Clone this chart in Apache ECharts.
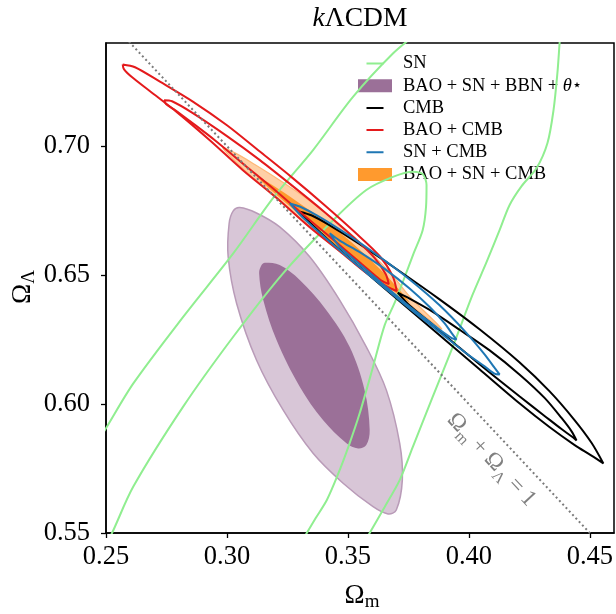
<!DOCTYPE html>
<html>
<head>
<meta charset="utf-8">
<script src="https://cdn.jsdelivr.net/npm/echarts@6/dist/echarts.min.js"></script>
<style>
html,body{margin:0;padding:0;background:#fff;}
#chart{width:616px;height:614px;}
</style>
</head>
<body>
<div id="chart"></div>
<script>
// ---------- axis ticks ----------
const xTicks = [0.25, 0.30, 0.35, 0.40, 0.45];
const yTicks = [0.55, 0.60, 0.65, 0.70];

// ---------- SN (green lines) ----------
const snOuterLeft = [[0.2475,0.5868],[0.2500,0.5906],[0.2613,0.6080],[0.2819,0.6338],[0.3026,0.6584],[0.3195,0.6804],[0.3356,0.6985],[0.3521,0.7191],[0.3686,0.7359],[0.3776,0.7430]];
const snInner = [[0.2508,0.5473],[0.2525,0.5500],[0.2613,0.5680],[0.2819,0.5990],[0.3026,0.6261],[0.3232,0.6507],[0.3439,0.6713],[0.3576,0.6830],[0.3686,0.6881],[0.3768,0.6901],[0.3809,0.6892],[0.3825,0.6849],[0.3823,0.6765],[0.3809,0.6674],[0.3772,0.6585],[0.3730,0.6481],[0.3693,0.6392],[0.3652,0.6306],[0.3604,0.6145],[0.3549,0.5965],[0.3503,0.5837],[0.3458,0.5725],[0.3413,0.5628],[0.3367,0.5558],[0.3330,0.5500],[0.3313,0.5473]];
const snOuterRight = [[0.4379,0.7450],[0.4375,0.7399],[0.4366,0.7283],[0.4350,0.7140],[0.4325,0.7012],[0.4280,0.6915],[0.4218,0.6845],[0.4168,0.6771],[0.4127,0.6674],[0.4073,0.6550],[0.4015,0.6423],[0.3933,0.6221],[0.3850,0.6027],[0.3768,0.5833],[0.3714,0.5705],[0.3652,0.5601],[0.3590,0.5500],[0.3574,0.5473]];

// ---------- BAO + SN + BBN + theta (purple filled) ----------
const purpleOuter = [[0.3053,0.6762],[0.3122,0.6741],[0.3218,0.6687],[0.3342,0.6571],[0.3466,0.6403],[0.3576,0.6222],[0.3659,0.6054],[0.3714,0.5848],[0.3725,0.5705],[0.3700,0.5589],[0.3666,0.5574],[0.3604,0.5602],[0.3480,0.5693],[0.3356,0.5809],[0.3232,0.5977],[0.3122,0.6171],[0.3040,0.6390],[0.3005,0.6571],[0.3009,0.6700],[0.3026,0.6749]];
const purpleInner = [[0.3157,0.6548],[0.3218,0.6539],[0.3301,0.6481],[0.3411,0.6364],[0.3507,0.6222],[0.3569,0.6054],[0.3590,0.5899],[0.3576,0.5841],[0.3542,0.5828],[0.3494,0.5848],[0.3397,0.5938],[0.3301,0.6067],[0.3205,0.6248],[0.3150,0.6403],[0.3133,0.6507],[0.3143,0.6539]];

// ---------- CMB (black) ----------
const cmbOuter = [[0.3301,0.6746],[0.3351,0.6731],[0.3425,0.6693],[0.3549,0.6620],[0.3714,0.6515],[0.3879,0.6406],[0.4044,0.6290],[0.4209,0.6162],[0.4333,0.6050],[0.4436,0.5939],[0.4507,0.5850],[0.4556,0.5770],[0.4507,0.5800],[0.4436,0.5842],[0.4333,0.5911],[0.4209,0.6003],[0.4044,0.6135],[0.3879,0.6267],[0.3714,0.6399],[0.3549,0.6531],[0.3425,0.6631],[0.3351,0.6696]];
const cmbInner = [[0.3706,0.6432],[0.3755,0.6409],[0.3838,0.6365],[0.3962,0.6288],[0.4086,0.6208],[0.4209,0.6115],[0.4313,0.6024],[0.4383,0.5946],[0.4424,0.5895],[0.4445,0.5859],[0.4424,0.5875],[0.4383,0.5903],[0.4313,0.5954],[0.4209,0.6030],[0.4086,0.6122],[0.3962,0.6218],[0.3838,0.6318],[0.3755,0.6382]];

// ---------- BAO + CMB (red) ----------
const baoCmbOuter = [[0.2569,0.7317],[0.2620,0.7306],[0.2723,0.7250],[0.2859,0.7173],[0.3000,0.7081],[0.3136,0.6979],[0.3272,0.6876],[0.3404,0.6771],[0.3528,0.6667],[0.3631,0.6574],[0.3685,0.6496],[0.3702,0.6438],[0.3664,0.6454],[0.3582,0.6504],[0.3466,0.6593],[0.3342,0.6686],[0.3206,0.6799],[0.3066,0.6907],[0.2929,0.7023],[0.2793,0.7132],[0.2682,0.7213],[0.2607,0.7268],[0.2574,0.7299]];
const baoCmbInner = [[0.2740,0.7178],[0.2773,0.7174],[0.2859,0.7128],[0.3000,0.7039],[0.3136,0.6946],[0.3272,0.6845],[0.3404,0.6744],[0.3528,0.6643],[0.3611,0.6566],[0.3656,0.6504],[0.3669,0.6465],[0.3635,0.6481],[0.3557,0.6543],[0.3446,0.6632],[0.3322,0.6729],[0.3198,0.6830],[0.3074,0.6926],[0.2950,0.7023],[0.2847,0.7097],[0.2781,0.7143],[0.2748,0.7163]];

// ---------- SN + CMB (blue) ----------
const snCmbOuter = [[0.3260,0.6778],[0.3301,0.6766],[0.3384,0.6725],[0.3507,0.6652],[0.3631,0.6571],[0.3755,0.6483],[0.3879,0.6383],[0.3982,0.6284],[0.4065,0.6193],[0.4106,0.6141],[0.4127,0.6115],[0.4106,0.6118],[0.4065,0.6146],[0.3982,0.6202],[0.3879,0.6279],[0.3755,0.6371],[0.3631,0.6467],[0.3507,0.6563],[0.3384,0.6663],[0.3301,0.6735]];
const snCmbInner = [[0.3425,0.6662],[0.3466,0.6634],[0.3549,0.6589],[0.3652,0.6524],[0.3755,0.6448],[0.3838,0.6376],[0.3900,0.6313],[0.3929,0.6275],[0.3949,0.6250],[0.3929,0.6256],[0.3900,0.6274],[0.3838,0.6318],[0.3755,0.6378],[0.3652,0.6459],[0.3549,0.6542],[0.3466,0.6610]];

// ---------- BAO + SN + CMB (orange filled) ----------
const allOuter = [[0.2983,0.6993],[0.3033,0.6974],[0.3115,0.6929],[0.3218,0.6868],[0.3342,0.6788],[0.3466,0.6696],[0.3590,0.6592],[0.3693,0.6489],[0.3755,0.6417],[0.3888,0.6291],[0.3755,0.6386],[0.3693,0.6427],[0.3590,0.6499],[0.3466,0.6591],[0.3342,0.6687],[0.3218,0.6787],[0.3115,0.6871],[0.3033,0.6943]];
const allInner = [[0.3123,0.6884],[0.3169,0.6860],[0.3260,0.6805],[0.3363,0.6737],[0.3466,0.6665],[0.3569,0.6581],[0.3652,0.6505],[0.3714,0.6441],[0.3755,0.6394],[0.3714,0.6422],[0.3652,0.6462],[0.3569,0.6523],[0.3466,0.6603],[0.3363,0.6683],[0.3260,0.6767],[0.3169,0.6841]];

// ---------- flat line Omega_m + Omega_L = 1 ----------
const flatLine = [[0.25,0.75],[0.46,0.54]];

// ---------- names ----------
const N_SN = 'SN', N_P = 'BAO + SN + BBN + θ⋆', N_CMB = 'CMB', N_BC = 'BAO + CMB', N_SC = 'SN + CMB', N_ALL = 'BAO + SN + CMB';

const FONT = 'Liberation Serif';
const LINE_ICON = 'path://M0,0h0.01v0.01h-0.01zM0,11h34v4h-34zM0,26h0.01v0.01h-0.01z';
const closeLoop = a => a.concat([a[0]]);

function fillSeries(name, pts, fill, stroke, lw, z) {
  return {
    type: 'custom', name: name, z: z, silent: true, coordinateSystem: 'cartesian2d',
    data: [pts[0]],
    itemStyle: {color: fill},
    renderItem: function (params, api) {
      return {
        type: 'polygon',
        shape: {points: pts.map(p => api.coord(p)), smooth: 0.35},
        style: {fill: fill, stroke: stroke, lineWidth: lw}
      };
    }
  };
}
function lineSeries(name, pts, color, width, z, closed, smooth) {
  return {
    type: 'line', name: name, z: z, silent: true, symbol: 'none',
    smooth: smooth, data: closed ? closeLoop(pts) : pts,
    lineStyle: {color: color, width: width},
    itemStyle: {color: color}
  };
}
function lineLegend(name, color) {
  return {name: name, icon: LINE_ICON, itemStyle: {color: color, borderWidth: 0}, lineStyle: {width: 0, opacity: 0}};
}

const chart = echarts.init(document.getElementById('chart'));
chart.setOption({
  animation: false,
  grid: {left: 106, right: 1, top: 43, bottom: 81, show: true, borderColor: '#000', borderWidth: 1.5, backgroundColor: 'transparent'},
  xAxis: {
    type: 'value', min: 0.25, max: 0.46,
    axisLine: {show: true, lineStyle: {color: '#000', width: 1.5}},
    axisTick: {show: true, length: 5, inside: false, customValues: xTicks, lineStyle: {color: '#000', width: 1.3}},
    axisLabel: {customValues: xTicks, formatter: v => v.toFixed(2), fontFamily: FONT, fontSize: 26.5, color: '#000', margin: 11},
    splitLine: {show: false}
  },
  yAxis: {
    type: 'value', min: 0.55, max: 0.74,
    axisLine: {show: true, lineStyle: {color: '#000', width: 1.5}},
    axisTick: {show: true, length: 5, inside: false, customValues: yTicks, lineStyle: {color: '#000', width: 1.3}},
    axisLabel: {customValues: yTicks, formatter: v => v.toFixed(2), fontFamily: FONT, fontSize: 26.5, color: '#000', margin: 16},
    splitLine: {show: false}
  },
  legend: {
    orient: 'vertical', left: 348, top: 48, padding: [6, 10, 6, 10],
    itemWidth: 34, itemHeight: 13, itemGap: 3.2,
    backgroundColor: 'rgba(255,255,255,0.8)', borderWidth: 0,
    selectedMode: false,
    textStyle: {fontFamily: FONT, fontSize: 18.5, color: '#000', lineHeight: 17, padding: [0, 0, 0, 6],
      rich: {i: {fontFamily: FONT, fontSize: 18.5, fontStyle: 'italic', lineHeight: 17},
             s: {fontFamily: 'DejaVu Sans', fontSize: 16, lineHeight: 13, verticalAlign: 'bottom'}}},
    formatter: name => name === N_P ? 'BAO + SN + BBN + {i|θ}{s|⋆}' : name,
    data: [
      lineLegend(N_SN, '#90ee90'),
      {name: N_P, icon: 'rect', itemStyle: {color: '#9b7098'}},
      lineLegend(N_CMB, '#000000'),
      lineLegend(N_BC, '#e41a1c'),
      lineLegend(N_SC, '#1f77b4'),
      {name: N_ALL, icon: 'rect', itemStyle: {color: '#ff9a2e'}}
    ]
  },
  series: [
    fillSeries(N_P, purpleOuter, '#d8c6d7', '#b99bb8', 1.5, 1),
    fillSeries(N_P, purpleInner, '#9b7098', 'none', 0, 2),
    fillSeries(N_ALL, allOuter, '#ffd0a6', '#ffb877', 1.2, 3),
    fillSeries(N_ALL, allInner, '#ff9a2e', 'none', 0, 4),
    lineSeries(N_SN, snOuterLeft, '#90ee90', 2, 5, false, 0.3),
    lineSeries(N_SN, snInner, '#90ee90', 2, 5, false, 0.3),
    lineSeries(N_SN, snOuterRight, '#90ee90', 2, 5, false, 0.3),
    lineSeries(N_CMB, cmbOuter, '#000000', 2, 6, true, 0.3),
    lineSeries(N_CMB, cmbInner, '#000000', 2, 6, true, 0.3),
    lineSeries(N_BC, baoCmbOuter, '#e41a1c', 2, 7, true, 0.3),
    lineSeries(N_BC, baoCmbInner, '#e41a1c', 2, 7, true, 0.3),
    lineSeries(N_SC, snCmbOuter, '#1f77b4', 2, 8, true, 0.3),
    lineSeries(N_SC, snCmbInner, '#1f77b4', 2, 8, true, 0.3),
    {type: 'line', name: 'flat', z: 9, silent: true, symbol: 'none', data: flatLine,
     lineStyle: {color: '#7a7a7a', width: 2, type: [2, 2.8]}}
  ],
  graphic: [
    {type: 'text', x: 360, y: 19, silent: true,
     style: {text: '{i|k}ΛCDM', align: 'center', verticalAlign: 'middle', fill: '#000',
       font: '27.5px "Liberation Serif"',
       rich: {i: {fontFamily: FONT, fontSize: 27.5, fontStyle: 'italic'}}}},
    {type: 'text', x: 362, y: 597, silent: true,
     style: {text: '{a|Ω}{s|m}', align: 'center', verticalAlign: 'middle', fill: '#000',
       rich: {a: {fontFamily: FONT, fontSize: 27, lineHeight: 30, verticalAlign: 'top'},
              s: {fontFamily: FONT, fontSize: 19, lineHeight: 15, verticalAlign: 'bottom'}}}},
    {type: 'text', x: 24, y: 287, rotation: Math.PI / 2, silent: true,
     style: {text: '{a|Ω}{s|Λ}', align: 'center', verticalAlign: 'middle', fill: '#000',
       rich: {a: {fontFamily: FONT, fontSize: 27, lineHeight: 30, verticalAlign: 'top'},
              s: {fontFamily: FONT, fontSize: 19, lineHeight: 15, verticalAlign: 'bottom'}}}},
    {type: 'text', x: 490, y: 461, rotation: -0.8186, silent: true,
     style: {text: '{a|Ω}{s|m}{a| + Ω}{s|Λ}{a| = 1}', align: 'center', verticalAlign: 'middle', fill: '#808080',
       rich: {a: {fontFamily: FONT, fontSize: 23, lineHeight: 27, verticalAlign: 'top', fill: '#808080'},
              s: {fontFamily: FONT, fontSize: 16, lineHeight: 13, verticalAlign: 'bottom', fill: '#808080'}}}}
  ]
});
</script>
</body>
</html>
